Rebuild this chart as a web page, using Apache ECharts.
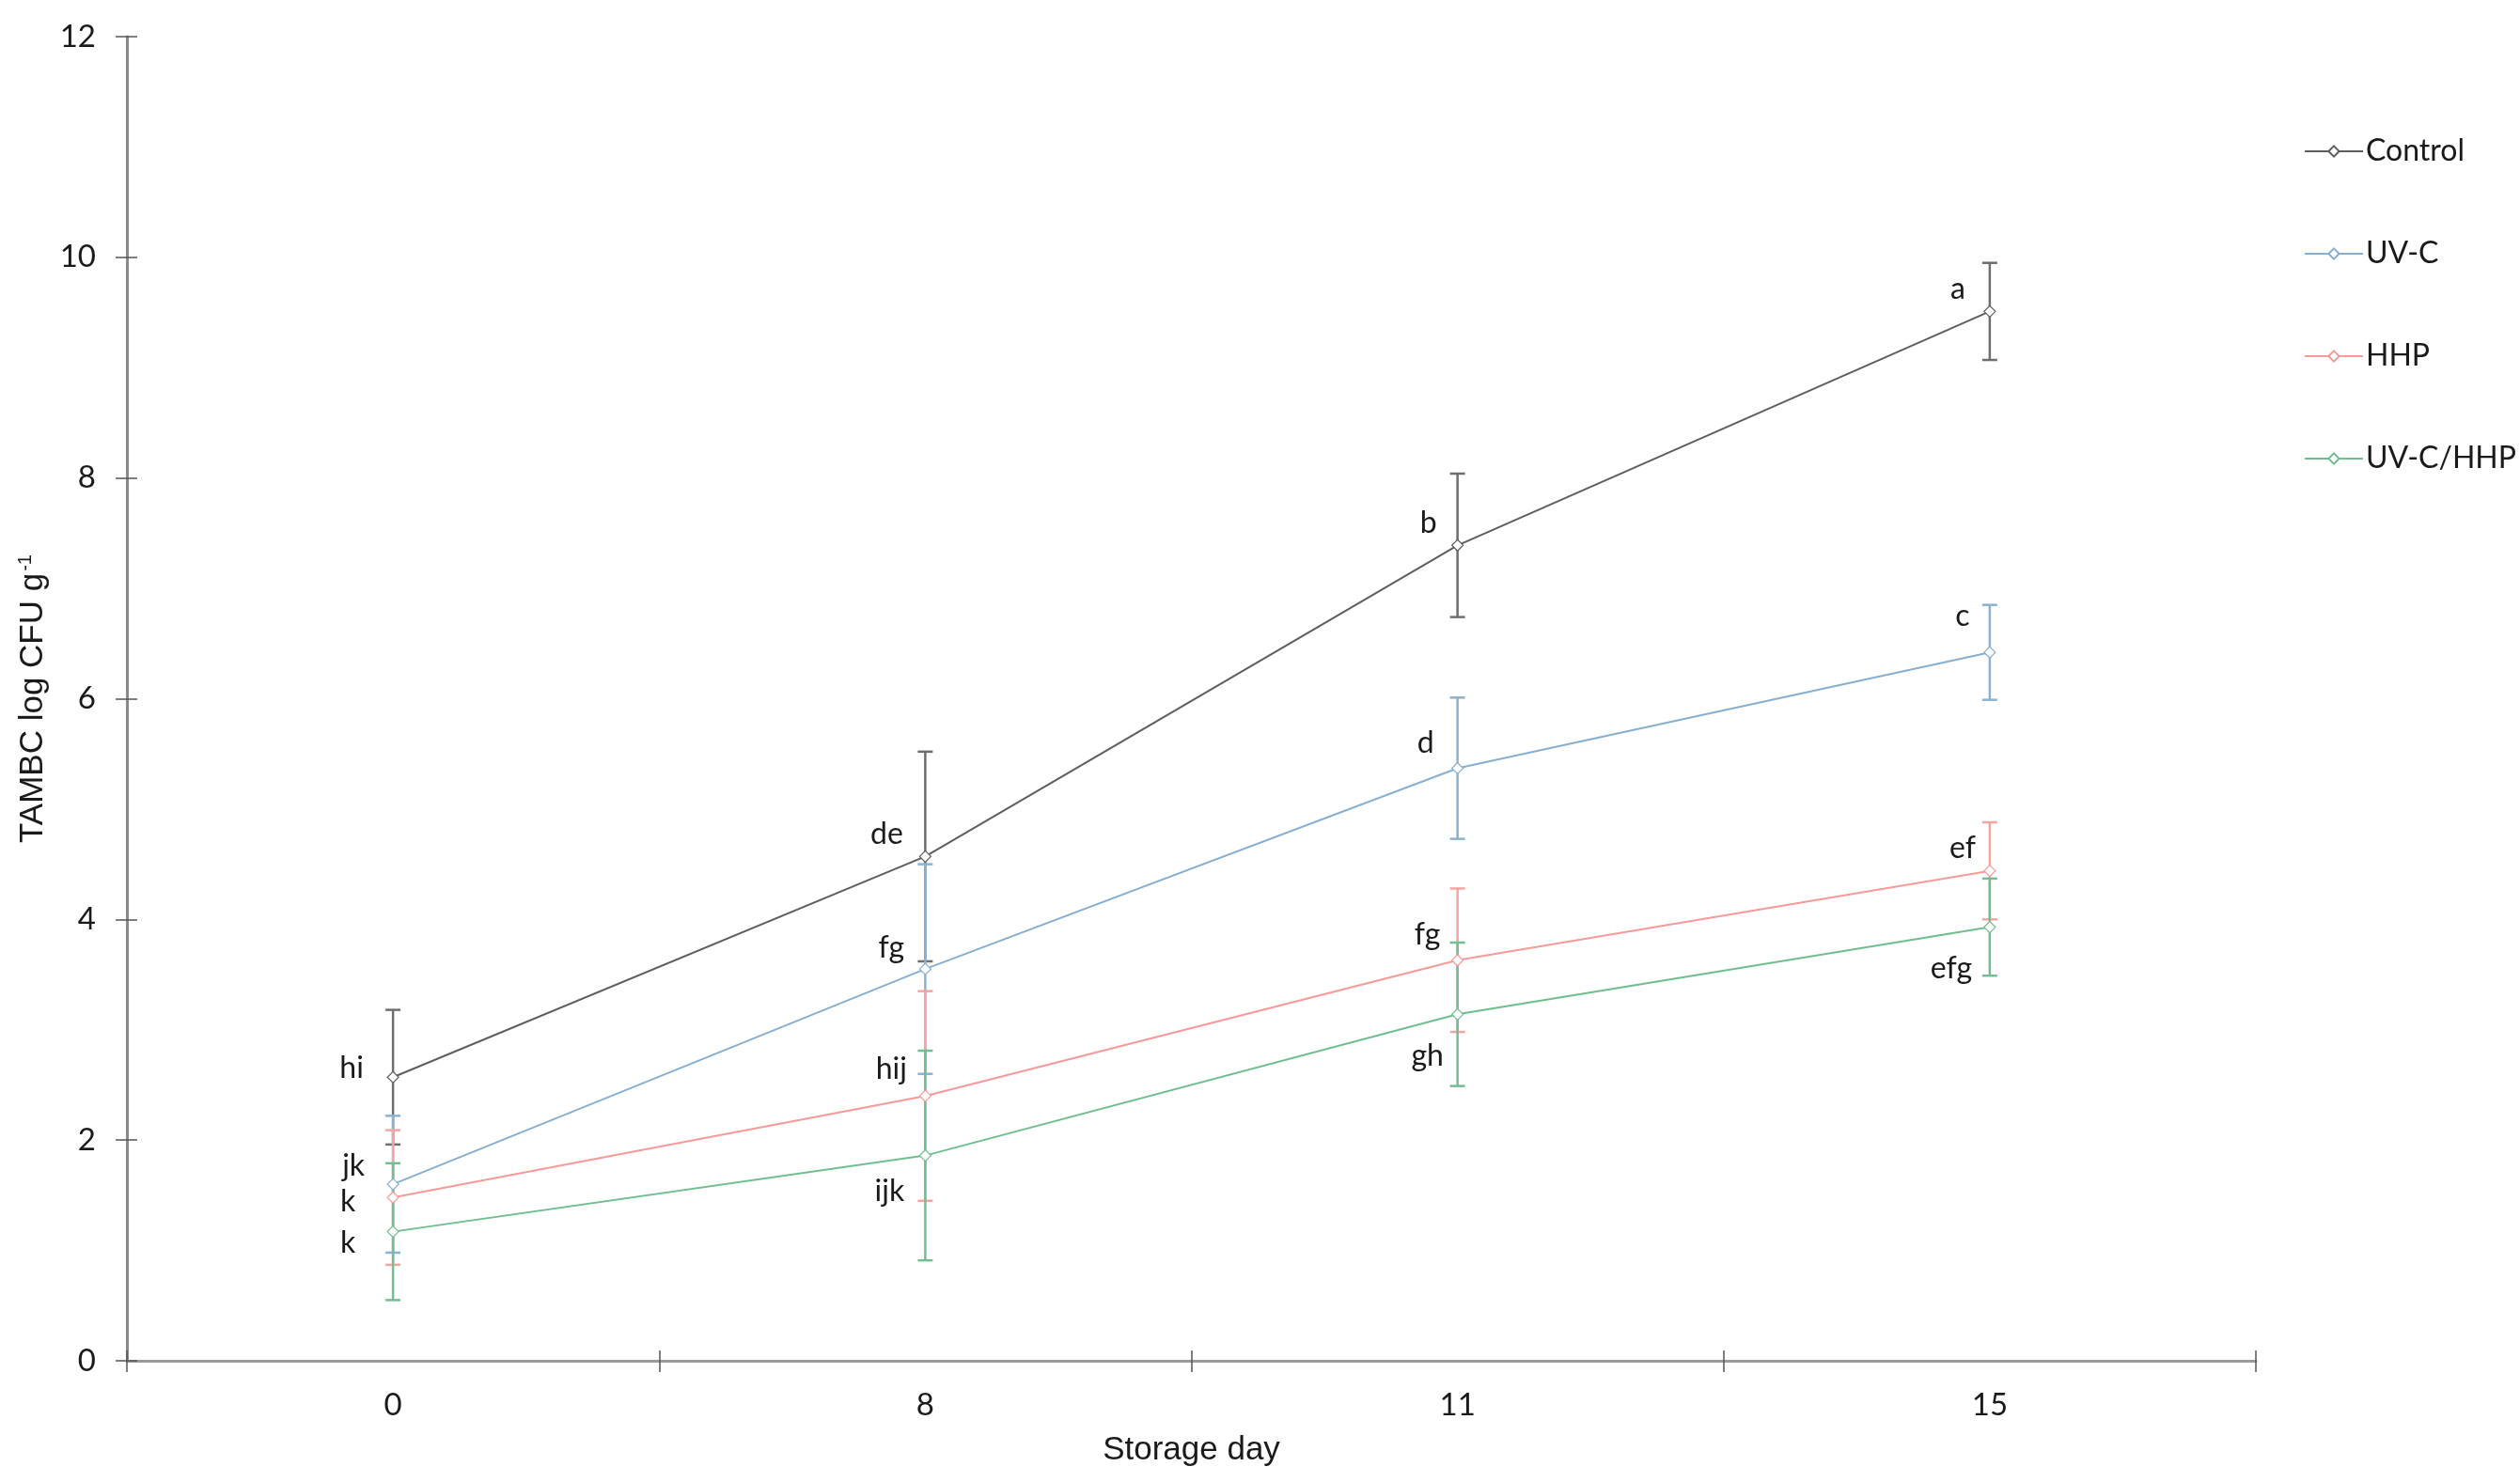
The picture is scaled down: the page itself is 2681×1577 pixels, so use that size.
<!DOCTYPE html>
<html>
<head>
<meta charset="utf-8">
<script src="https://cdn.jsdelivr.net/npm/echarts@6/dist/echarts.min.js"></script>
<style>
html,body{margin:0;padding:0;background:#fff;}
#chart{width:2681px;height:1577px;}
</style>
</head>
<body>
<div id="chart"></div>
<script>
// ---- data ----
const days = ['0', '8', '11', '15'];
const seriesNames = ['Control', 'UV-C', 'HHP', 'UV-C/HHP'];
const controlMean = [2.57, 4.57, 7.39, 9.51];
const controlErr  = [0.61, 0.95, 0.65, 0.44];
const uvcMean = [1.60, 3.55, 5.37, 6.42];
const uvcErr  = [0.62, 0.95, 0.64, 0.43];
const hhpMean = [1.48, 2.40, 3.63, 4.44];
const hhpErr  = [0.61, 0.95, 0.65, 0.44];
const comboMean = [1.17, 1.86, 3.14, 3.93];
const comboErr  = [0.62, 0.95, 0.65, 0.44];
const controlLetters = ['hi', 'de', 'b', 'a'];
const uvcLetters = ['jk', 'fg', 'd', 'c'];
const hhpLetters = ['k', 'hij', 'fg', 'ef'];
const comboLetters = ['k', 'ijk', 'gh', 'efg'];
const yTicks = {min: 0, max: 12, interval: 2};

// ---- style ----
const lineColors = ['#5e5e5e', '#86afd0', '#f79a98', '#6fbf8e'];
const barColors  = ['#6e6e6e', '#8ab2d2', '#f6a4a2', '#74bd92'];
const labelOffsets = [
  [[-44, -10], [-41, -24], [-31, -24], [-34, -24]],
  [[-42, -19], [-36, -22], [-34, -27], [-29, -38]],
  [[-48, 4],   [-36, -29], [-32, -27], [-29, -24]],
  [[-48, 12],  [-38, 38],  [-32, 44],  [-41, 44]]
];
const means = [controlMean, uvcMean, hhpMean, comboMean];
const errs = [controlErr, uvcErr, hhpErr, comboErr];
const letters = [controlLetters, uvcLetters, hhpLetters, comboLetters];

const tickFont = 'Lato';
const series = [];
means.forEach((m, s) => {
  series.push({
    name: seriesNames[s] + ' err',
    type: 'custom',
    xAxisIndex: 0, yAxisIndex: 0,
    z: 2,
    silent: true,
    data: m.map((v, i) => [i, v - errs[s][i], v + errs[s][i]]),
    renderItem: function (params, api) {
      const lo = api.coord([api.value(0), api.value(1)]);
      const hi = api.coord([api.value(0), api.value(2)]);
      const hw = 8;
      const st = {stroke: barColors[s], lineWidth: 2.5};
      return {type: 'group', children: [
        {type: 'line', shape: {x1: lo[0], y1: lo[1], x2: hi[0], y2: hi[1]}, style: st},
        {type: 'line', shape: {x1: lo[0] - hw, y1: lo[1], x2: lo[0] + hw, y2: lo[1]}, style: st},
        {type: 'line', shape: {x1: hi[0] - hw, y1: hi[1], x2: hi[0] + hw, y2: hi[1]}, style: st}
      ]};
    }
  });
});
means.forEach((m, s) => {
  series.push({
    name: seriesNames[s],
    type: 'line',
    xAxisIndex: 0, yAxisIndex: 0,
    z: 3,
    symbol: 'diamond',
    symbolSize: 12,
    lineStyle: {color: lineColors[s], width: 2},
    itemStyle: {color: '#ffffff', borderColor: lineColors[s], borderWidth: 1.2},
    emphasis: {disabled: true},
    data: m.map((v, i) => ({
      value: v,
      label: {
        show: true,
        position: 'inside',
        formatter: letters[s][i],
        offset: labelOffsets[s][i],
        color: '#1a1a1a',
        fontFamily: tickFont,
        fontSize: 32
      }
    }))
  });
});

const chart = echarts.init(document.getElementById('chart'));
chart.setOption({
  animation: false,
  backgroundColor: '#ffffff',
  grid: {left: 135, right: 281, top: 39, bottom: 129, containLabel: false},
  legend: {
    data: seriesNames,
    orient: 'vertical',
    left: 2446,
    top: 140,
    itemWidth: 62,
    itemHeight: 14,
    itemGap: 77,
    textStyle: {fontFamily: tickFont, fontSize: 32, color: '#1a1a1a', padding: [0, 0, 0, -2]}
  },
  xAxis: [{
    type: 'category',
    data: days,
    boundaryGap: true,
    name: 'Storage day',
    nameLocation: 'middle',
    nameGap: 78,
    nameTextStyle: {fontFamily: 'Liberation Sans', fontSize: 35, color: '#1a1a1a'},
    axisLine: {lineStyle: {color: '#9a9a9a', width: 3}},
    axisTick: {show: true, length: 12, lineStyle: {color: '#555555', width: 1.5}},
    axisLabel: {margin: 31, fontFamily: tickFont, fontSize: 33, color: '#1a1a1a'},
    splitLine: {show: false}
  }, {
    type: 'category',
    data: days,
    position: 'bottom',
    boundaryGap: true,
    axisLine: {show: false},
    axisTick: {show: true, inside: true, length: 11, lineStyle: {color: '#555555', width: 1.5}},
    axisLabel: {show: false},
    splitLine: {show: false}
  }],
  yAxis: [{
    type: 'value',
    min: yTicks.min, max: yTicks.max, interval: yTicks.interval,
    name: '{a|TAMBC log CFU g}{s|-1}',
    nameLocation: 'middle',
    nameGap: 82,
    nameRotate: 90,
    nameTextStyle: {
      rich: {
        a: {fontFamily: 'Liberation Sans', fontSize: 35, color: '#1a1a1a'},
        s: {fontFamily: 'Liberation Sans', fontSize: 20, color: '#1a1a1a', verticalAlign: 'top', padding: [0, 0, 14, 2]}
      }
    },
    axisLine: {show: true, lineStyle: {color: '#8a8a8a', width: 3}},
    axisTick: {show: true, length: 12, lineStyle: {color: '#555555', width: 1.5}},
    axisLabel: {margin: 33, fontFamily: tickFont, fontSize: 33, color: '#1a1a1a'},
    splitLine: {show: false}
  }, {
    type: 'value',
    position: 'left',
    min: yTicks.min, max: yTicks.max, interval: yTicks.interval,
    axisLine: {show: false},
    axisTick: {show: true, inside: true, length: 11, lineStyle: {color: '#555555', width: 1.5}},
    axisLabel: {show: false},
    splitLine: {show: false}
  }],
  series: series
});
</script>
</body>
</html>
